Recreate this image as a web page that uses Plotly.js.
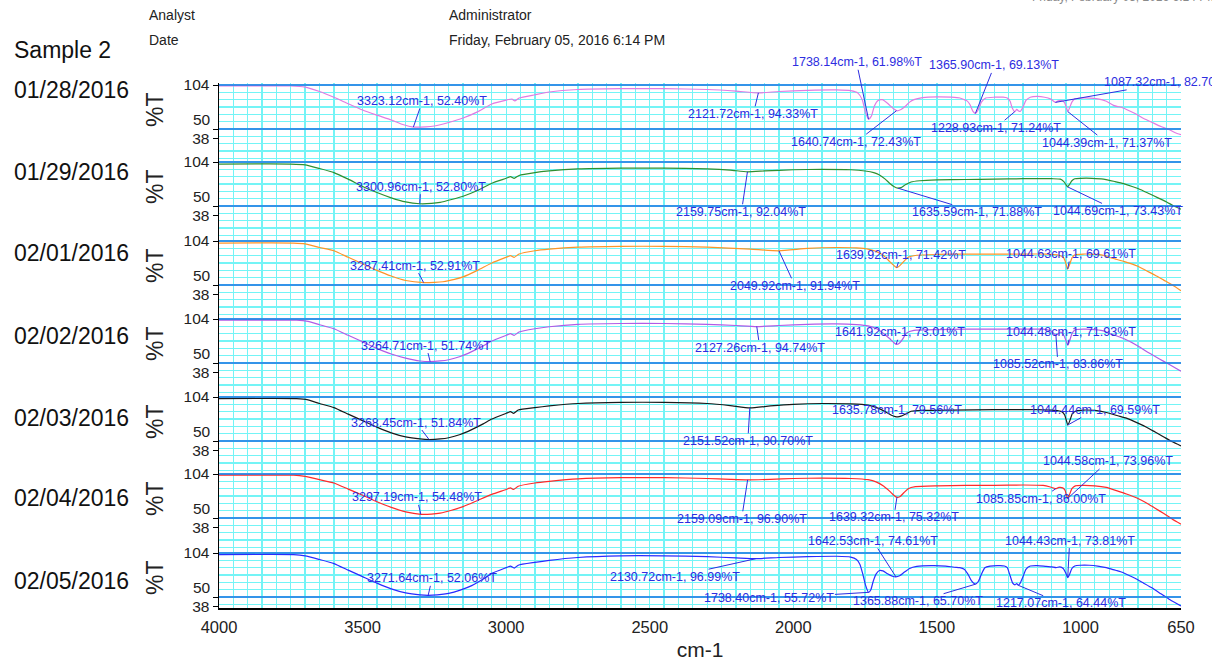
<!DOCTYPE html>
<html><head><meta charset="utf-8">
<script src="https://cdn.plot.ly/plotly-3.0.1.min.js"></script>
<style>html,body{margin:0;padding:0;background:#fff}</style>
</head><body><div id="chart" style="width:1212px;height:664px"></div>
<script>
// ---------------- DATA ----------------
const sampleName = 'Sample 2';
const dates = ['01/28/2016','01/29/2016','02/01/2016','02/02/2016','02/03/2016','02/04/2016','02/05/2016'];
const xTickVals = [4000,3500,3000,2500,2000,1500,1000,650];
const yTickVals = [38,50,104];

// spectra: [wavenumber cm-1, %T]
const spec1 = [[4000,102.8],[3750,102.8],[3700,101.5],[3650,96],[3600,89],[3550,81],[3500,73.3],[3450,67],[3400,61],[3360,55.5],[3323,52.4],[3280,52.6],[3250,53.7],[3200,58],[3150,63.5],[3100,71],[3050,80.7],[3000,85.5],[2980,86.8],[2970,84.5],[2955,88],[2900,92],[2850,95.4],[2750,98.5],[2600,99.5],[2450,99.5],[2300,98.5],[2200,96.5],[2121,94.3],[2050,96],[1950,97.5],[1850,98],[1800,97],[1775,94],[1760,86],[1750,72],[1738,62],[1728,66],[1718,78],[1705,85],[1690,86],[1670,81],[1655,76],[1640,72.4],[1625,74],[1610,78],[1595,83],[1580,86],[1550,88.5],[1500,89.5],[1450,89],[1420,88],[1405,86],[1395,84.5],[1385,80],[1375,72],[1366,69.1],[1357,73],[1345,83],[1330,88],[1300,89],[1270,89],[1255,88],[1245,84],[1238,76],[1229,71.2],[1222,74],[1215,72],[1210,71.5],[1200,77],[1190,85],[1175,89],[1150,90],[1125,89],[1105,87],[1095,84.5],[1087,82.7],[1078,84.5],[1065,85],[1055,82],[1050,77],[1044,71.4],[1038,76],[1030,83],[1020,87],[1000,88],[970,88],[940,87],[910,84],[885,79],[870,77.5],[860,77],[840,74],[810,69],[780,63],[750,58],[720,53],[690,49],[670,45.5],[650,43]];
const spec2 = [[4000,101.5],[3750,101.5],[3700,100.5],[3650,96],[3600,91],[3550,83],[3500,74],[3450,66.5],[3400,60],[3350,55],[3301,52.8],[3260,53.2],[3230,54.5],[3190,58],[3150,62],[3100,69],[3050,78],[3000,84],[2985,86],[2972,84],[2955,87.5],[2900,91],[2850,93],[2750,95.5],[2600,96.5],[2450,96.5],[2300,95.5],[2220,94],[2160,92],[2100,93],[2000,94.5],[1900,95],[1800,94.5],[1750,93],[1720,91],[1700,88],[1680,83],[1665,78],[1650,74],[1636,71.9],[1625,72.5],[1610,76],[1590,79.5],[1560,81],[1500,82],[1400,82.5],[1300,83],[1200,83.5],[1100,83.5],[1070,83],[1058,80],[1050,76],[1045,73.4],[1040,75.5],[1030,81],[1020,83.5],[1000,84],[960,84],[920,83],[880,80],[850,77.5],[820,74],[790,70],[760,65],[730,60],[700,55],[675,50],[650,46]];
const spec3 = [[4000,101.5],[3740,101.5],[3700,100.5],[3650,96],[3600,92],[3550,84],[3500,76],[3450,68],[3400,61],[3350,55.5],[3287,52.9],[3250,53.2],[3220,54],[3180,57],[3150,60],[3100,68],[3050,77],[3000,84],[2985,86],[2972,84],[2955,88],[2900,92],[2850,94],[2750,96.5],[2600,97.5],[2450,97.5],[2300,96.5],[2150,94],[2050,92],[1950,95],[1850,96],[1780,95.5],[1740,94],[1710,91],[1685,86],[1665,79],[1650,74],[1640,71.4],[1630,73.5],[1615,79],[1600,84],[1570,86.5],[1500,87.5],[1400,88],[1300,88],[1200,88],[1120,88],[1080,87],[1060,84],[1052,78],[1045,69.6],[1038,75],[1030,83],[1020,87],[990,88],[950,87.5],[915,86],[900,84],[880,82],[850,79],[800,73],[770,67.5],[740,62],[710,56],[680,50],[650,43]];
const spec4 = [[4000,102.5],[3730,102.5],[3690,101],[3650,97],[3600,92],[3550,84],[3500,76],[3450,68],[3400,61],[3350,56],[3300,52.5],[3265,51.7],[3230,52.5],[3200,54],[3160,58],[3120,64],[3080,71],[3050,77],[3000,84],[2985,86],[2972,84],[2955,88],[2900,92],[2850,94.5],[2750,97.5],[2600,98.5],[2450,98.5],[2300,97.5],[2200,96],[2127,94.7],[2050,96],[1950,97.5],[1850,98],[1780,97],[1740,95.5],[1710,92],[1685,86],[1665,80],[1650,75],[1642,73],[1632,74],[1620,79],[1605,87],[1580,90],[1500,91],[1400,91.5],[1300,91.5],[1200,91.5],[1130,91.5],[1105,89.5],[1092,86],[1086,83.9],[1078,86],[1068,88],[1058,84],[1050,77],[1044,71.9],[1038,77],[1030,86],[1020,90.5],[990,91.5],[950,91],[915,89],[900,86],[880,84],[850,80],[800,71],[770,64],[740,58],[710,52],[680,46],[650,40]];
const spec5 = [[4000,102],[3730,102],[3690,100.5],[3650,96],[3600,91],[3550,83],[3500,75],[3450,67],[3400,60],[3350,55],[3300,52.5],[3268,51.8],[3230,52.5],[3200,54],[3160,58],[3120,64],[3080,71],[3050,77],[3000,84],[2985,86],[2974,84],[2958,88],[2900,91],[2850,93],[2750,96],[2600,97.5],[2450,97.5],[2300,96],[2220,93.5],[2151,90.7],[2080,93],[2000,95],[1900,96],[1800,95.5],[1740,94],[1710,91],[1685,87],[1660,82],[1645,80],[1636,79.6],[1625,80.5],[1610,83],[1590,86.5],[1550,87.5],[1450,88],[1300,88.5],[1150,88.5],[1090,87.5],[1065,86],[1055,82],[1044,69.6],[1036,76],[1028,84],[1015,87],[990,88],[950,87.5],[910,85],[870,81],[840,78],[800,72],[770,67],[740,61],[710,55],[680,49],[650,44]];
const spec6 = [[4000,102.5],[3740,102.5],[3700,101],[3650,97],[3600,93],[3550,85.5],[3500,78],[3450,70],[3400,63],[3350,57.5],[3297,54.5],[3260,54.8],[3230,56],[3190,59.5],[3150,64],[3100,71.5],[3050,79],[3000,85],[2985,87],[2974,85],[2958,89],[2900,93],[2850,95],[2750,98],[2600,99.5],[2450,99.5],[2300,98.5],[2220,97.5],[2159,96.9],[2080,97.5],[2000,98.5],[1900,99],[1800,98.5],[1740,97],[1710,94],[1685,89],[1665,83],[1650,78],[1639,75.3],[1628,76.5],[1615,81],[1600,86],[1575,88.5],[1500,89.5],[1400,90],[1300,90],[1200,90.5],[1130,90],[1105,88],[1092,86.5],[1086,86],[1075,87.5],[1062,87],[1054,84],[1045,74],[1038,79],[1030,86],[1018,89.5],[990,90],[950,89.5],[910,87.5],[870,83],[840,79.5],[800,74],[770,68.5],[740,62],[710,55.5],[680,48.5],[650,42.5]];
const spec7 = [[4000,102],[3740,102],[3700,100.5],[3650,96],[3600,91],[3550,83],[3500,75],[3450,67],[3400,60],[3350,55],[3300,52.6],[3272,52.1],[3240,52.6],[3200,54.5],[3160,58.5],[3120,64],[3080,72],[3050,79],[3000,86],[2985,88],[2972,85.5],[2958,89],[2900,92.5],[2850,95],[2750,98.5],[2600,100.5],[2450,100.5],[2300,99.5],[2200,98],[2131,97],[2050,98.5],[1950,99.5],[1850,100],[1800,99],[1780,96],[1768,90],[1758,78],[1748,64],[1738,55.7],[1730,59],[1722,69],[1712,78],[1700,82.5],[1688,82],[1672,78.5],[1655,75.5],[1643,74.6],[1630,76],[1615,80],[1595,85],[1570,87.5],[1520,88.5],[1470,88],[1440,86.5],[1420,86],[1405,84],[1392,78],[1380,70],[1366,65.7],[1356,69],[1345,78],[1333,86],[1315,88],[1280,88.5],[1265,88],[1255,86],[1245,76],[1236,67],[1228,65],[1222,66.5],[1217,64.4],[1210,67],[1200,75],[1190,84],[1175,88],[1150,88.5],[1120,87.5],[1100,87],[1085,86],[1072,87],[1060,85],[1052,80],[1044,73.8],[1038,78],[1030,85],[1020,88],[1000,89],[970,89],[940,88],[910,86],[890,84],[875,82.5],[860,81],[840,78],[810,73],[780,67],[750,61],[720,54],[690,47],[670,43],[650,39]];

// labelled peaks: [wavenumber, %T]
const peaks1 = [[3323.12,52.40],[2121.72,94.33],[1738.14,61.98],[1640.74,72.43],[1365.90,69.13],[1228.93,71.24],[1087.32,82.70],[1044.39,71.37]];
const peaks2 = [[3300.96,52.80],[2159.75,92.04],[1635.59,71.88],[1044.69,73.43]];
const peaks3 = [[3287.41,52.91],[2049.92,91.94],[1639.92,71.42],[1044.63,69.61]];
const peaks4 = [[3264.71,51.74],[2127.26,94.74],[1641.92,73.01],[1044.48,71.93],[1085.52,83.86]];
const peaks5 = [[3268.45,51.84],[2151.52,90.70],[1635.78,79.56],[1044.44,69.59]];
const peaks6 = [[3297.19,54.48],[2159.09,96.90],[1639.32,75.32],[1085.85,86.00],[1044.58,73.96]];
const peaks7 = [[3271.64,52.06],[2130.72,96.99],[1642.53,74.61],[1044.43,73.81],[1738.40,55.72],[1365.88,65.70],[1217.07,64.44]];

// ---------------- LAYOUT / STYLE ----------------
const spectra = [spec1,spec2,spec3,spec4,spec5,spec6,spec7];
const peaks = [peaks1,peaks2,peaks3,peaks4,peaks5,peaks6,peaks7];
// label offsets in px (text centre relative to peak point)
const labelOffsets = [
  [[9,-26],[-5,21],[-12,-57],[-40,31],[19,-48],[-19,16],[114,-20],[39,31]],
  [[1,-17],[-6,40],[79,24],[50,24]],
  [[-9,-17],[16,35],[4,-13],[3,-15]],
  [[-4,-16],[3,21],[4,-12],[3,-13],[2,29]],
  [[-13,-17],[-2,33],[-1,-7],[27,-15]],
  [[-4,-17],[-6,39],[-3,20],[-15,10],[40,-37]],
  [[4,-17],[-81,18],[-23,-36],[2,-37],[-99,6],[-57,17],[43,18]]
];
const colors = ['#e27ae2','#2f8f2f','#ff9326','#b25be6','#1a1a1a','#ff2a2a','#2a2aff'];
const labelColor = '#2d2de0';
const gridColor = '#74f4f6';
const blueLine = '#1f74e4';
const FONT = 'Liberation Sans, Arial, Helvetica, sans-serif';

const W = 1212, H = 664;
const L = 219, R = 1181, T = 83, B = 608;
const PW = R - L, PH = B - T;
const pxX = px => (px - L) / PW;
const pxY = py => (B - py) / PH;
const k = 0.815; // px per %T unit
const top104 = [85,162,241,319,397,474,553];
const domTop = [83,160,239,317,395,472,551];
const domBot = [160,239,317,395,472,551,608];
const dateY = [90,172,253,336,418,498,581];

const data = [];
const layout = {
  width: W, height: H,
  margin: {l: L, r: W - R, t: T, b: H - B, pad: 0},
  paper_bgcolor: '#ffffff', plot_bgcolor: 'rgba(0,0,0,0)',
  showlegend: false, hovermode: false,
  font: {family: FONT, color: '#222'},
  xaxis: {
    domain: [0,1], anchor: 'y7', range: [4000,650],
    tickmode: 'array', tickvals: xTickVals, ticktext: xTickVals.map(String),
    ticks: 'outside', ticklen: 3, tickcolor: 'rgba(0,0,0,0)',
    showline: true, linecolor: '#000', linewidth: 2,
    showgrid: true, gridcolor: gridColor, gridwidth: 1.3,
    minor: {tickmode: 'linear', tick0: 0, dtick: 50, showgrid: true, gridcolor: gridColor, gridwidth: 1.3, ticks: ''},
    zeroline: false, tickfont: {size: 16.5, color: '#222'},
    title: {text: 'cm-1', font: {size: 21, color: '#222'}, standoff: 8}
  },
  shapes: [], annotations: []
};

for (let i = 0; i < 7; i++) {
  const yid = i === 0 ? 'y' : 'y' + (i + 1);
  const key = i === 0 ? 'yaxis' : 'yaxis' + (i + 1);
  const lo = 104 - (domBot[i] - top104[i]) / k;
  const hi = 104 + (top104[i] - domTop[i]) / k;
  layout[key] = {
    domain: [pxY(domBot[i]), pxY(domTop[i])], anchor: 'x', range: [lo, hi],
    tickmode: 'array', tickvals: yTickVals, ticktext: ['38','','104'],
    ticks: 'outside', ticklen: 5, tickcolor: '#000', tickwidth: 1,
    showline: true, linecolor: '#000', linewidth: 1.5,
    showgrid: false, zeroline: false,
    minor: {tickmode: 'linear', tick0: 50, dtick: 9, showgrid: true, gridcolor: gridColor, gridwidth: 1.3, ticks: ''},
    tickfont: {size: 15.5, color: '#222'}
  };
  data.push({
    x: spectra[i].map(p => p[0]), y: spectra[i].map(p => p[1]),
    xaxis: 'x', yaxis: yid, type: 'scatter', mode: 'lines',
    line: {color: colors[i], width: 1.2, shape: 'spline', smoothing: 0.5},
    hoverinfo: 'skip'
  });
  [104, 50].forEach(v => layout.shapes.push({
    type: 'line', xref: 'paper', x0: 0, x1: 1, yref: yid, y0: v, y1: v,
    line: {color: blueLine, width: 1.6}, layer: 'above'
  }));
  // "50" tick label (drawn above its tick as in the original)
  layout.annotations.push({
    xref: 'paper', x: 0, xanchor: 'right', xshift: -7, yref: yid, y: 50, yshift: 10,
    text: '50', showarrow: false, font: {size: 15.5, color: '#222'}, borderpad: 0
  });
  // %T
  layout.annotations.push({
    xref: 'paper', x: pxX(155), yref: 'paper', y: pxY(top104[i] + 25),
    text: '%T', textangle: -90, showarrow: false, xanchor: 'center', yanchor: 'middle',
    font: {size: 23, color: '#222'}
  });
  // date
  layout.annotations.push({
    xref: 'paper', x: pxX(12), yref: 'paper', y: pxY(dateY[i]),
    text: dates[i], showarrow: false, xanchor: 'left', yanchor: 'middle',
    font: {size: 23, color: '#111'}
  });
  // peak labels
  peaks[i].forEach((p, j) => {
    const off = labelOffsets[i][j];
    layout.annotations.push({
      xref: 'x', yref: yid, x: p[0], y: p[1],
      text: p[0].toFixed(2) + 'cm-1, ' + p[1].toFixed(2) + '%T',
      showarrow: true, arrowhead: 0, arrowwidth: 1, arrowcolor: labelColor,
      ax: off[0], ay: off[1], standoff: 0, borderpad: 0,
      font: {size: 12.5, color: labelColor}
    });
  });
}

// header texts
const header = [
  [sampleName, 12, 50, 23, '#111'],
  ['Analyst', 147, 15, 14, '#222'],
  ['Date', 147, 40, 14, '#222'],
  ['Administrator', 447, 15, 14, '#222'],
  ['Friday, February 05, 2016 6:14 PM', 447, 40, 14, '#222']
];
header.forEach(h => layout.annotations.push({
  xref: 'paper', yref: 'paper', x: pxX(h[1]), y: pxY(h[2]),
  text: h[0], showarrow: false, xanchor: 'left', yanchor: 'middle',
  font: {size: h[3], color: h[4]}
}));
layout.annotations.push({
  xref: 'paper', yref: 'paper', x: pxX(1030), y: pxY(6),
  text: 'Friday, February 05, 2016 6:14 PM', showarrow: false,
  xanchor: 'left', yanchor: 'bottom', font: {size: 12, color: '#8a8a8a'}
});

Plotly.newPlot('chart', data, layout, {staticPlot: true, displayModeBar: false});
</script>
</body></html>
